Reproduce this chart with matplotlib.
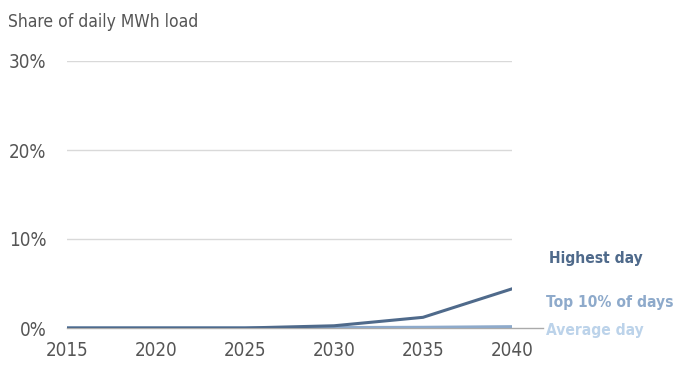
import matplotlib
matplotlib.use("Agg")
import matplotlib.pyplot as plt

# data (percent of daily MWh load)
years = [2015, 2020, 2025, 2030, 2035, 2040]
highest_day = [0.0, 0.0, 0.0, 0.25, 1.2, 4.4]
top10_days = [0.0, 0.0, 0.0, 0.05, 0.08, 0.15]
average_day = [0.0, 0.0, 0.0, 0.02, 0.04, 0.06]
y_ticks = [0, 10, 20, 30]
y_labels = ["0%", "10%", "20%", "30%"]

C_HIGH = "#4f6a8b"
C_TOP = "#8eaacb"
C_AVG = "#bcd3ea"
C_TEXT = "#555555"

plt.rcParams["font.family"] = ["DejaVu Sans"]
plt.rcParams["font.stretch"] = "condensed"

fig = plt.figure(figsize=(6.75, 3.67), dpi=100)
ax = fig.add_axes([67 / 675, 1 - 328 / 367, 445 / 675, 267 / 367])

ax.plot(years, average_day, color=C_AVG, lw=2.2, zorder=3)
ax.plot(years, top10_days, color=C_TOP, lw=2.2, zorder=4)
ax.plot(years, highest_day, color=C_HIGH, lw=2.2, zorder=5)

ax.set_xlim(2015, 2040)
ax.set_ylim(0, 30)
ax.set_yticks(y_ticks)
ax.set_yticklabels(y_labels)
ax.set_xticks(years)
ax.grid(axis="y", color="#d9d9d9", lw=1)
ax.set_axisbelow(True)
for s in ax.spines.values():
    s.set_visible(False)
ax.tick_params(length=0, labelsize=13.5, colors=C_TEXT)
ax.tick_params(axis="y", pad=15)
ax.tick_params(axis="x", pad=9)

# zero baseline extended toward the labels
ax.plot([0, 1.07], [0, 0], transform=ax.transAxes, color="#aaaaaa",
        lw=1, clip_on=False, zorder=2)

fig.text(8 / 675, 1 - 22 / 367, "Share of daily MWh load", fontsize=12.5,
         color=C_TEXT, va="center", ha="left")

lab_kw = dict(fontsize=11.2, fontweight="bold", va="center", ha="left")
fig.text(549 / 675, 1 - 258 / 367, "Highest day", color=C_HIGH, **lab_kw)
fig.text(546 / 675, 1 - 302 / 367, "Top 10% of days", color=C_TOP, **lab_kw)
fig.text(546 / 675, 1 - 330 / 367, "Average day", color=C_AVG, **lab_kw)

fig.savefig("out.png", dpi=100)
